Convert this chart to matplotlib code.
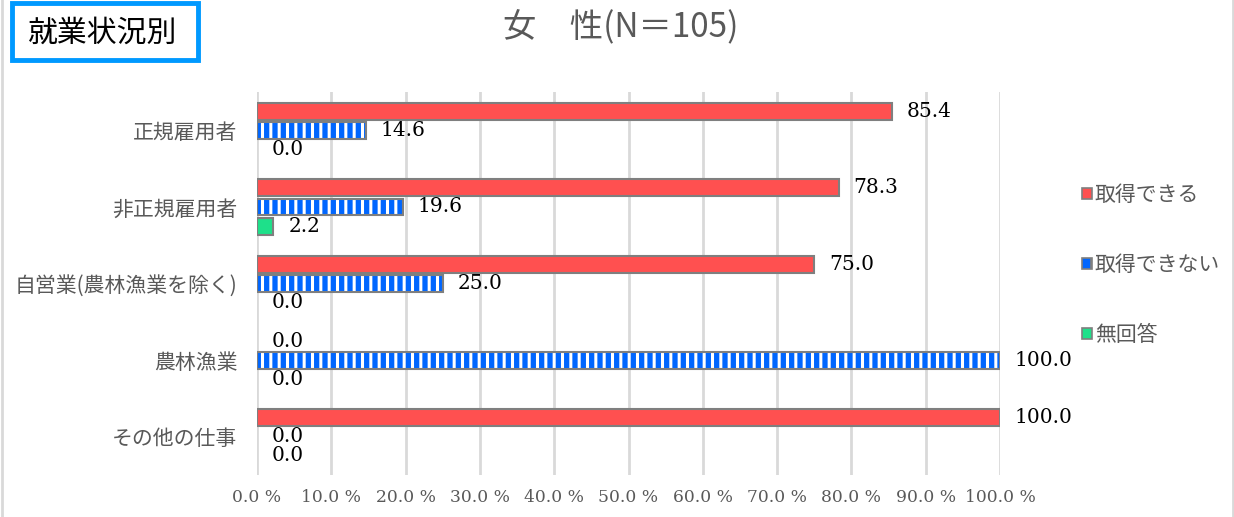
import matplotlib
matplotlib.use("Agg")
import matplotlib.pyplot as plt
from matplotlib.patches import Patch, Rectangle
from matplotlib.lines import Line2D
import numpy as np

plt.rcParams['font.family'] = ['Noto Sans CJK JP', 'DejaVu Sans']
plt.rcParams['hatch.linewidth'] = 2.2

# データ
categories = ["正規雇用者", "非正規雇用者", "自営業(農林漁業を除く)", "農林漁業", "その他の仕事"]
series_names = ["取得できる", "取得できない", "無回答"]
dekiru = [85.4, 78.3, 75.0, 0.0, 100.0]
dekinai = [14.6, 19.6, 25.0, 100.0, 0.0]
mukaitou = [0.0, 2.2, 0.0, 0.0, 0.0]
xticks = [0, 10, 20, 30, 40, 50, 60, 70, 80, 90, 100]

red = "#FF5050"
blue = "#0066FF"
green = "#1EE08A"
edge = "#7F7F7F"
gray_txt = "#595959"

fig = plt.figure(figsize=(12.34, 5.17), dpi=100)
ax = fig.add_axes([0.2083, 0.081, 0.6021, 0.741])

y = np.arange(len(categories))
h = 0.22
off = 0.25


def lw(vals):
    # 0 の棒は枠線なし
    return [1.5 if v > 0 else 0 for v in vals]


ax.barh(y - off, dekiru, height=h, color=red, edgecolor=edge, linewidth=lw(dekiru), zorder=3)
# 縦縞（白）
ax.barh(y, dekinai, height=h, color=blue, edgecolor="white", hatch="||", linewidth=0, zorder=3)
ax.barh(y, dekinai, height=h, fill=False, edgecolor=edge, linewidth=lw(dekinai), zorder=4)
ax.barh(y + off, mukaitou, height=h, color=green, edgecolor=edge, linewidth=lw(mukaitou), zorder=3)

serif = "DejaVu Serif"
for vals, dy in [(dekiru, -off), (dekinai, 0), (mukaitou, off)]:
    for i, v in enumerate(vals):
        ax.text(v + 2.0, i + dy, f"{v:.1f}", va="center", ha="left",
                fontsize=14.5, family=serif, color="black")

ax.set_xlim(0, 100)
ax.set_ylim(len(categories) - 0.5, -0.5)
ax.set_xticks(xticks)
ax.set_xticklabels([f"{t:.1f} %" for t in xticks], family=serif, fontsize=12.3, color=gray_txt)
ax.set_yticks(y)
ax.set_yticklabels(categories, fontsize=15, color=gray_txt)
ax.tick_params(axis="both", length=0)
ax.tick_params(axis="x", pad=10)
ax.tick_params(axis="y", pad=14)
ax.grid(axis="x", color="#D9D9D9", linewidth=2, zorder=0)
ax.set_axisbelow(True)
for s in ax.spines.values():
    s.set_visible(False)

# 凡例
handles = [
    Patch(facecolor=red, edgecolor=edge, linewidth=1.2),
    Patch(facecolor=blue, edgecolor=edge, hatch="|", linewidth=1.2),
    Patch(facecolor=green, edgecolor=edge, linewidth=1.2),
]
fig.legend(handles, series_names, loc="upper left", bbox_to_anchor=(0.8685, 0.664),
           frameon=False, fontsize=15, handlelength=0.45, handleheight=0.45,
           handletextpad=0.15, labelspacing=2.3, labelcolor=gray_txt, borderpad=0)

# タイトル
fig.text(621 / 1234, 1 - 28 / 517, "女　性(N＝105)", ha="center", va="center", fontsize=24, color=gray_txt)

# 左上の枠
fig.patches.append(Rectangle((12 / 1234, 1 - 60 / 517), 186 / 1234, 57 / 517,
                             transform=fig.transFigure, facecolor="white",
                             edgecolor="#0099FF", linewidth=3.5))
fig.text(103 / 1234, 1 - 33 / 517, "就業状況別", ha="center", va="center", fontsize=21.5, color="black")

# 左右の枠線
for xx in (1.5 / 1234, 1232.5 / 1234):
    fig.add_artist(Line2D([xx, xx], [0, 1], transform=fig.transFigure, color="#D9D9D9", linewidth=2))

fig.savefig("out.png", dpi=100)
